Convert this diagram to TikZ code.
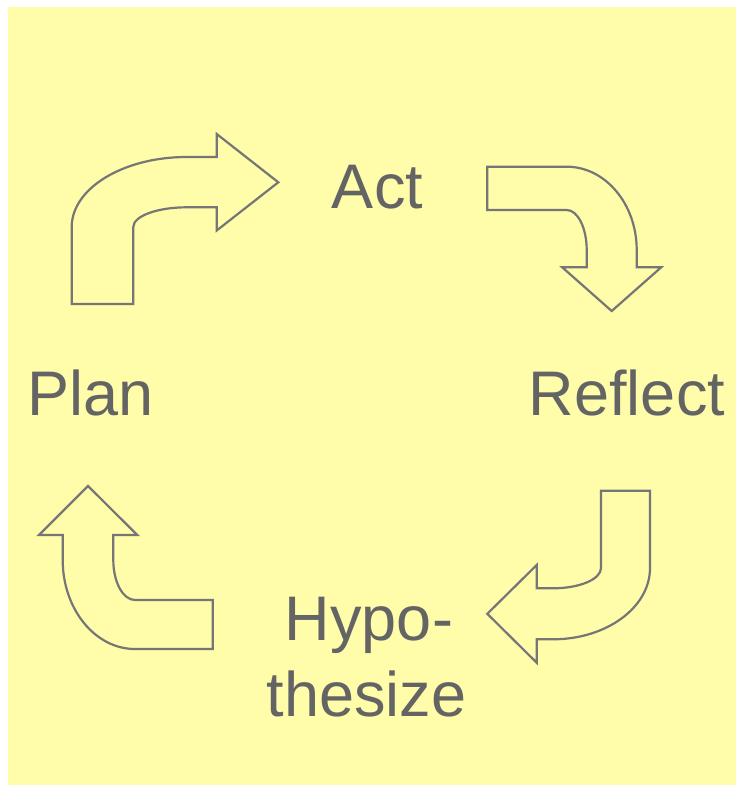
\documentclass[tikz,border=0pt]{standalone}
\usepackage{fontspec}
\setmainfont{Liberation Sans}
\definecolor{padyellow}{RGB}{255,252,170}
\definecolor{outlinegray}{RGB}{118,118,118}
\definecolor{labelgray}{RGB}{100,100,100}
\begin{document}
\begin{tikzpicture}[x=1pt,y=-1pt,
  bentarrow/.style={draw=outlinegray,fill=padyellow,line width=2.2pt,line join=miter},
  stagelabel/.style={text=labelgray,font=\fontsize{63}{76}\selectfont,inner sep=0pt,anchor=base}]
  % page and yellow backdrop
  \useasboundingbox (0,0) rectangle (736,786);
  \fill[padyellow] (8,7) rectangle (736,785);

  % stage labels
  \node[stagelabel] (act) at (377.5,208.3) {Act};
  \node[stagelabel] (plan) at (91,415) {Plan};
  \node[stagelabel] (reflect) at (627,415) {Reflect};
  \node[stagelabel] (hypo) at (369,640.7) {Hypo-};
  \node[stagelabel] (thesize) at (366.7,716.7) {thesize};

  % Plan -> Act : up, then bending right
  \draw[bentarrow] (71.7,304) -- (71.7,227)
    .. controls (71.7,188.4) and (123.2,157) .. (186.7,157)
    -- (216.7,157) -- (216.7,134) -- (278.3,182.3) -- (216.7,230.5)
    -- (216.7,207.3) -- (186.7,207.3)
    .. controls (157.2,207.3) and (133.3,216.1) .. (133.3,227)
    -- (133.3,304) -- cycle;

  % Act -> Reflect : right, then bending down
  \draw[bentarrow] (487.3,166.7) -- (566.7,166.7)
    .. controls (605.3,166.7) and (636.7,204) .. (636.7,250)
    -- (636.7,267.3) -- (661.2,267.3) -- (611.7,311) -- (562.2,267.3)
    -- (586.7,267.3) -- (586.7,250)
    .. controls (586.7,227.9) and (577.7,210) .. (566.7,210)
    -- (487.3,210) -- cycle;

  % Reflect -> Hypothesize : down, then bending left
  \draw[bentarrow] (601,490.7) -- (650,490.7) -- (650,568)
    .. controls (650,607.4) and (606.5,639.3) .. (553,639.3)
    -- (536.7,639.3) -- (536.7,662.7) -- (487.3,613.8) -- (536.7,565)
    -- (536.7,588.3) -- (553,588.3)
    .. controls (579.5,588.3) and (601,579.2) .. (601,568)
    -- cycle;

  % Hypothesize -> Plan : left, then bending up
  \draw[bentarrow] (212.7,600) -- (212.7,649) -- (135,649)
    .. controls (95.1,649) and (62.7,609.1) .. (62.7,560)
    -- (62.7,535) -- (39,535) -- (88,486) -- (137.3,535)
    -- (113.3,535) -- (113.3,560)
    .. controls (113.3,582.1) and (123,600) .. (135,600)
    -- cycle;
\end{tikzpicture}
\end{document}
